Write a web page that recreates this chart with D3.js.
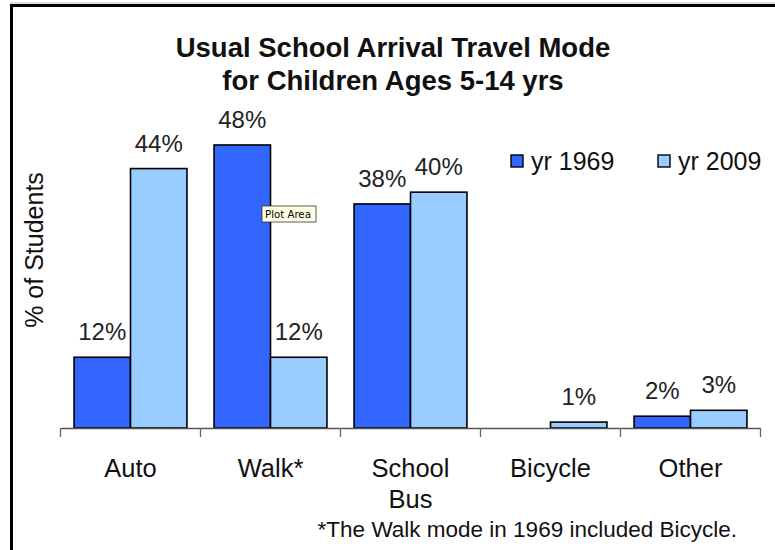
<!DOCTYPE html>
<html>
<head>
<meta charset="utf-8">
<script src="https://cdn.jsdelivr.net/npm/d3@7"></script>
<style>
html,body{margin:0;padding:0;background:#fff;}
svg{display:block;font-family:"Liberation Sans",Arial,sans-serif;}
</style>
</head>
<body>
<svg id="chart" width="775" height="550"></svg>
<script>
const categories = ["Auto", "Walk*", "School Bus", "Bicycle", "Other"];
const categoryLines = [["Auto"], ["Walk*"], ["School", "Bus"], ["Bicycle"], ["Other"]];
const seriesNames = ["yr 1969", "yr 2009"];
const values1969 = [12, 48, 38, 0, 2];
const values2009 = [44, 12, 40, 1, 3];
const valueLabels1969 = ["12%", "48%", "38%", "", "2%"];
const valueLabels2009 = ["44%", "12%", "40%", "1%", "3%"];
const titleLines = ["Usual School Arrival Travel Mode", "for Children Ages 5-14 yrs"];
const yTitle = "% of Students";
const footnote = "*The Walk mode in 1969 included Bicycle.";
const colors = ["#3366FF", "#99CCFF"];

const svg = d3.select("#chart");

// outer frame (top and left edges visible)
svg.append("line").attr("x1", 10).attr("x2", 775).attr("y1", 3).attr("y2", 3).attr("stroke", "#bbb").attr("stroke-width", 1);
svg.append("line").attr("x1", 10).attr("x2", 775).attr("y1", 5.5).attr("y2", 5.5).attr("stroke", "#000").attr("stroke-width", 3);
svg.append("line").attr("x1", 11.5).attr("x2", 11.5).attr("y1", 4).attr("y2", 550).attr("stroke", "#000").attr("stroke-width", 3);

// title
const title = svg.append("text").attr("text-anchor", "middle").attr("font-weight", "bold").attr("font-size", 27.5).attr("fill", "#111");
title.selectAll("tspan").data(titleLines).join("tspan")
  .attr("x", 393).attr("y", (d, i) => 57 + i * 33).text(d => d);

const x0 = d3.scaleBand().domain(categories).range([60.5, 760.5]).paddingInner(0).paddingOuter(0);
const x1 = d3.scaleBand().domain(seriesNames).range([0, x0.bandwidth()]).paddingInner(0).paddingOuter(0.24);
const y = d3.scaleLinear().domain([0, 50]).range([428, 428 - 50 * 5.896]);

const data = categories.map((c, i) => ({
  cat: c,
  vals: [
    {s: seriesNames[0], v: values1969[i], label: valueLabels1969[i], color: colors[0]},
    {s: seriesNames[1], v: values2009[i], label: valueLabels2009[i], color: colors[1]}
  ]
}));

const groups = svg.append("g").selectAll("g").data(data).join("g")
  .attr("transform", d => `translate(${x0(d.cat)},0)`);

groups.selectAll("rect").data(d => d.vals.filter(v => v.v > 0)).join("rect")
  .attr("x", d => x1(d.s))
  .attr("y", d => y(d.v))
  .attr("width", x1.bandwidth())
  .attr("height", d => y(0) - y(d.v))
  .attr("fill", d => d.color)
  .attr("stroke", "#000")
  .attr("stroke-width", 1.6);

groups.selectAll("text.val").data(d => d.vals.filter(v => v.label)).join("text")
  .attr("class", "val")
  .attr("x", d => x1(d.s) + x1.bandwidth() / 2)
  .attr("y", d => y(d.v) - 17)
  .attr("text-anchor", "middle")
  .attr("font-size", 24)
  .attr("fill", "#222")
  .text(d => d.label);

// x axis
const xAxis = d3.axisBottom(x0).tickSize(0).tickFormat("");
const ax = svg.append("g").attr("transform", `translate(0,${y(0)})`).call(xAxis);
ax.select(".domain").attr("stroke", "#555").attr("stroke-width", 1.3);
const tickPositions = categories.map(c => x0(c)).concat([x0.range()[1]]);
ax.selectAll("line.sep").data(tickPositions).join("line")
  .attr("class", "sep")
  .attr("x1", d => d).attr("x2", d => d)
  .attr("y1", 0).attr("y2", 9)
  .attr("stroke", "#666").attr("stroke-width", 1.3);

// category labels
const catLabels = svg.append("g").selectAll("text").data(categories).join("text")
  .attr("text-anchor", "middle")
  .attr("font-size", 25.5)
  .attr("fill", "#111");
catLabels.selectAll("tspan").data((d, i) => categoryLines[i].map(t => ({t, c: d}))).join("tspan")
  .attr("x", d => x0(d.c) + x0.bandwidth() / 2)
  .attr("y", (d, i) => 477 + i * 31)
  .text(d => d.t);

// y title
svg.append("text")
  .attr("transform", `translate(43,250) rotate(-90)`)
  .attr("text-anchor", "middle")
  .attr("font-size", 25)
  .attr("fill", "#111")
  .text(yTitle);

// legend
const legend = svg.append("g");
const legendX = [511, 658];
seriesNames.forEach((s, i) => {
  legend.append("rect").attr("x", legendX[i]).attr("y", 155).attr("width", 12).attr("height", 12)
    .attr("fill", colors[i]).attr("stroke", "#000").attr("stroke-width", 1.4);
  legend.append("text").attr("x", legendX[i] + 20).attr("y", 170)
    .attr("font-size", 25).attr("fill", "#111").text(s);
});

// footnote
svg.append("text").attr("x", 737).attr("y", 537).attr("text-anchor", "end")
  .attr("font-size", 22.5).attr("fill", "#111").text(footnote);

// "Plot Area" tooltip
const tip = svg.append("g").attr("transform", "translate(262,206)");
tip.append("rect").attr("x", 0).attr("y", 0).attr("width", 54).attr("height", 16)
  .attr("fill", "#FFFFE1").attr("stroke", "#333").attr("stroke-width", 0.8);
tip.append("text").attr("x", 3).attr("y", 12).attr("font-family", "DejaVu Sans, sans-serif")
  .attr("font-size", 10.2).attr("fill", "#000").text("Plot Area");
</script>
</body>
</html>
